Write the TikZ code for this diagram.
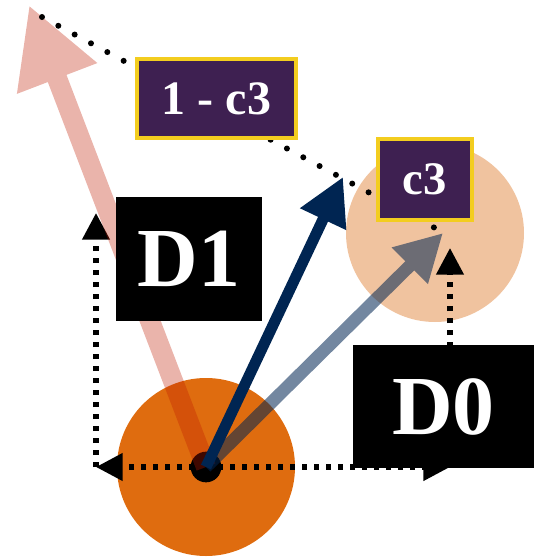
\documentclass[tikz,border=0pt]{standalone}
\usepackage{fontspec}
\setmainfont{Liberation Serif}
\usetikzlibrary{arrows.meta}

\definecolor{srcorange}{HTML}{DF6C0F}
\definecolor{tgtpeach}{HTML}{F0C39F}
\definecolor{vecnavy}{HTML}{002552}
\definecolor{vecred}{HTML}{C01B00}
\definecolor{tagpurple}{HTML}{3E2051}
\definecolor{tagyellow}{HTML}{F3CD1F}

\begin{document}
\begin{tikzpicture}[
  x=0.75pt, y=-0.75pt,
  disc/.style={circle, inner sep=0pt, minimum size=133.5pt},
  vec/.style={line width=#1},
  proj/.style={line width=4pt, dash pattern=on 4pt off 5pt,
    -{Triangle[length=20pt,width=20pt]}},
  guide/.style={line width=4.5pt, line cap=round, dash pattern=on 0pt off 13.9pt},
  tagbox/.style={fill=tagpurple, draw=tagyellow, line width=3pt, text=white,
    inner sep=0pt, font=\bfseries},
  dimbox/.style={fill=black, text=white, inner sep=0pt,
    font=\fontsize{63}{63}\selectfont\bfseries}
]
\useasboundingbox (0,0) rectangle (535,557);

% Points
\coordinate (O)   at (206,467);
\coordinate (tR)  at (29,5);
\coordinate (tN)  at (343,177);
\coordinate (tG)  at (443,233);
\coordinate (fL)  at (96,467);
\coordinate (hL)  at (96,213);
\coordinate (fR)  at (450,467);
\coordinate (hR)  at (450,248);
\coordinate (gS)  at (42,17);
\coordinate (gE)  at (435,228);

% Discs
\node[disc, fill=srcorange] (src) at (O) {};
\node[disc, fill=tgtpeach] (tgt) at (435,233) {};
\node[circle, fill=black, inner sep=0pt, minimum size=23pt] (org) at (O) {};

% Projections
\draw[proj] (org.center) -- (fL);
\draw[proj] (fL) -- (hL);
\draw[proj] (org.center) -- (fR);
\draw[proj] (fR) -- (hR);

% Vectors
\begin{scope}[transparency group, opacity=0.33]
  \draw[vecred, vec=15pt, -{Triangle[length=59pt,width=60pt]}] (org.center) -- (tR);
\end{scope}
\draw[vecnavy, vec=8.25pt, -{Triangle[length=35pt,width=36pt]}] (org.center) -- (tN);
\begin{scope}[transparency group, opacity=0.55]
  \draw[vecnavy, vec=9.5pt, -{Triangle[length=35pt,width=36pt]}] (org.center) -- (tG);
\end{scope}

% Guide between tips
\draw[guide] (gS) -- (gE);

% Labels
\node[tagbox, minimum width=119pt, minimum height=59pt,
  font=\fontsize{36}{36}\selectfont\bfseries] (inv) at (216.5,98.5) {1 - c3};
\node[tagbox, minimum width=70.5pt, minimum height=60.75pt,
  font=\fontsize{35}{35}\selectfont\bfseries] (cee) at (425,179.5) {c3};
\node[dimbox, minimum width=109.5pt, minimum height=93pt] (d1) at (189,259) {D1};
\node[dimbox, minimum width=135.75pt, minimum height=92.25pt] (d0) at (443.5,406.5) {D0};

\end{tikzpicture}
\end{document}
